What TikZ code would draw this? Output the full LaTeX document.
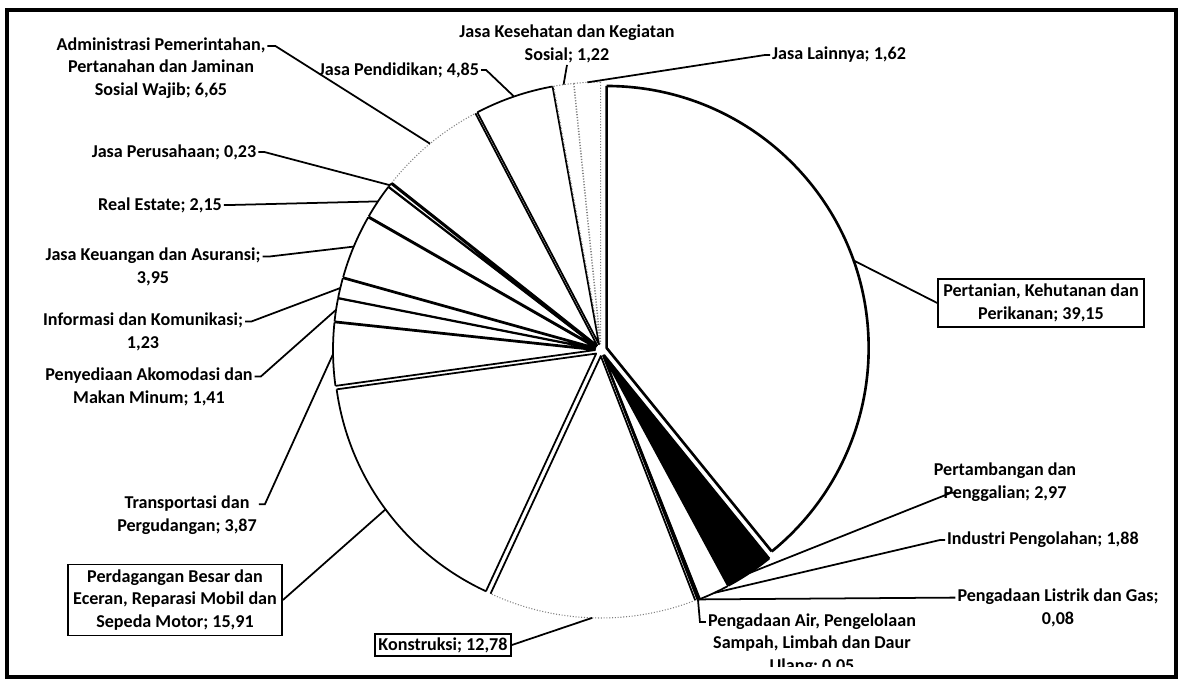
\documentclass[tikz,border=0pt]{standalone}
\usepackage{fontspec}
\setmainfont{Carlito}
\usetikzlibrary{calc}

\tikzset{
  lbl/.style={font=\fontsize{10.3}{12.8}\selectfont\bfseries, align=center, inner sep=1pt},
  boxed/.style={lbl, draw, line width=0.9pt, inner sep=3pt},
  edge/.style={line width=1pt, line join=round},
  rim/.style={line width=1pt},
  heavy/.style={line width=1.5pt, line join=round},
  faint/.style={gray, densely dotted, line width=0.6pt},
  leader/.style={line width=1pt},
}

\begin{document}
\begin{tikzpicture}[x=0.02cm, y=0.02cm]
\useasboundingbox (0,0) rectangle (1181,-683);
\draw[line width=1.8pt] (7,-10) rectangle (1176,-677);
\coordinate (c) at (601,-350);

% slices, clockwise from the top
\foreach \n/\a/\b/\f/\e/\r in {
    pert/90/-50.94/white/heavy/heavy,
    tamb/-50.94/-61.63/black/edge/rim,
    ind/-61.63/-68.40/white/edge/rim,
    lis/-68.40/-68.69/white/edge/rim,
    air/-68.69/-68.87/white/edge/rim,
    kons/-68.87/-114.88/white/edge/faint,
    dag/-114.88/-172.15/white/edge/rim,
    trans/-172.15/-186.08/white/edge/rim,
    akom/-186.08/-191.16/white/edge/rim,
    info/-191.16/-195.59/white/edge/rim,
    keu/-195.59/-209.81/white/edge/rim,
    re/-209.81/-217.55/white/edge/rim,
    per/-217.55/-218.38/white/edge/rim,
    adm/-218.38/-242.32/white/edge/faint,
    pend/-242.32/-259.78/white/edge/rim,
    kes/-259.78/-264.17/white/faint/faint,
    lain/-264.17/-270/white/faint/faint}{
  \pgfmathsetmacro\m{(\a+\b)/2}
  \coordinate (\n-o) at ([shift={(\m:6)}]c);
  \coordinate (\n-m) at ([shift={(\m:262)}]\n-o);
  \fill[\f] (\n-o) -- ++(\a:262) arc[start angle=\a, end angle=\b, radius=262] -- cycle;
  \draw[\e] ([shift={(\a:262)}]\n-o) -- (\n-o) -- ++(\b:262);
  \draw[\r] ([shift={(\a:262)}]\n-o) arc[start angle=\a, end angle=\b, radius=262];
}

% labels
\node[lbl] (adm) at (161,-68) {Administrasi Pemerintahan,\\Pertanahan dan Jaminan\\Sosial Wajib; 6,65};
\node[lbl] (kes) at (567,-44) {Jasa Kesehatan dan Kegiatan\\Sosial; 1,22};
\node[lbl] (pend) at (399,-70) {Jasa Pendidikan; 4,85};
\node[lbl, anchor=west] (lain) at (770,-55) {Jasa Lainnya; 1,62};
\node[lbl] (per) at (174,-152) {Jasa Perusahaan; 0,23};
\node[lbl] (re) at (160,-205) {Real Estate; 2,15};
\node[lbl] (keu) at (153,-267) {Jasa Keuangan dan Asuransi;\\3,95};
\node[lbl] (info) at (143,-332) {Informasi dan Komunikasi;\\1,23};
\node[lbl] (akom) at (149,-387) {Penyediaan Akomodasi dan\\Makan Minum; 1,41};
\node[lbl] (trans) at (187,-515) {Transportasi dan\\Pergudangan; 3,87};
\node[boxed] (dag) at (175,-600) {Perdagangan Besar dan\\Eceran, Reparasi Mobil dan\\Sepeda Motor; 15,91};
\node[boxed, inner sep=2pt] (kons) at (443,-645) {Konstruksi; 12,78};
\begin{scope}
  \clip (600,-560) rectangle (950,-666);
  \node[lbl] (air) at (812,-644) {Pengadaan Air, Pengelolaan\\Sampah, Limbah dan Daur\\Ulang; 0,05};
\end{scope}
\node[lbl] (lis) at (1058,-608) {Pengadaan Listrik dan Gas;\\0,08};
\node[lbl, anchor=west] (ind) at (945,-540) {Industri Pengolahan; 1,88};
\node[lbl] (tamb) at (1005,-482) {Pertambangan dan\\Penggalian; 2,97};
\node[boxed] (pert) at (1041,-303) {Pertanian, Kehutanan dan\\Perikanan; 39,15};

% leader lines
\draw[leader] ([yshift=-6pt]adm.north east) -- ++(8,0) -- (adm-m);
\draw[leader] (kes.south) -- (kes-m);
\draw[leader] (pend.east) -- ++(5,0) -- (pend-m);
\draw[leader] (lain.west) -- ++(-5,0) -- (lain-m);
\draw[leader] (per.east) -- ++(6,0) -- (per-m);
\draw[leader] (re.east) -- ++(6,0) -- (re-m);
\draw[leader] ([yshift=-6pt]keu.north east) -- ++(6,0) -- (keu-m);
\draw[leader] ([yshift=-6pt]info.north east) -- ++(6,0) -- (info-m);
\draw[leader] ([yshift=-6pt]akom.north east) -- ++(6,0) -- (akom-m);
\draw[leader] ([yshift=-6pt]trans.north east) -- ++(6,0) -- (trans-m);
\draw[leader] (dag.east) -- (dag-m);
\draw[leader] (kons.east) -- (kons-m);
\draw[leader] ([yshift=-6pt]air.north west) -- ++(-6,0) -- (air-m);
\draw[leader] ([yshift=-6pt]lis.north west) -- ++(-5,0) -- (lis-m);
\draw[leader] (ind.west) -- ++(-5,0) -- (ind-m);
\draw[leader] ([xshift=14pt, yshift=6pt]tamb.south west) -- ++(-5,0) -- (tamb-m);
\draw[leader] (pert-m) -- (pert.west);
\end{tikzpicture}
\end{document}
